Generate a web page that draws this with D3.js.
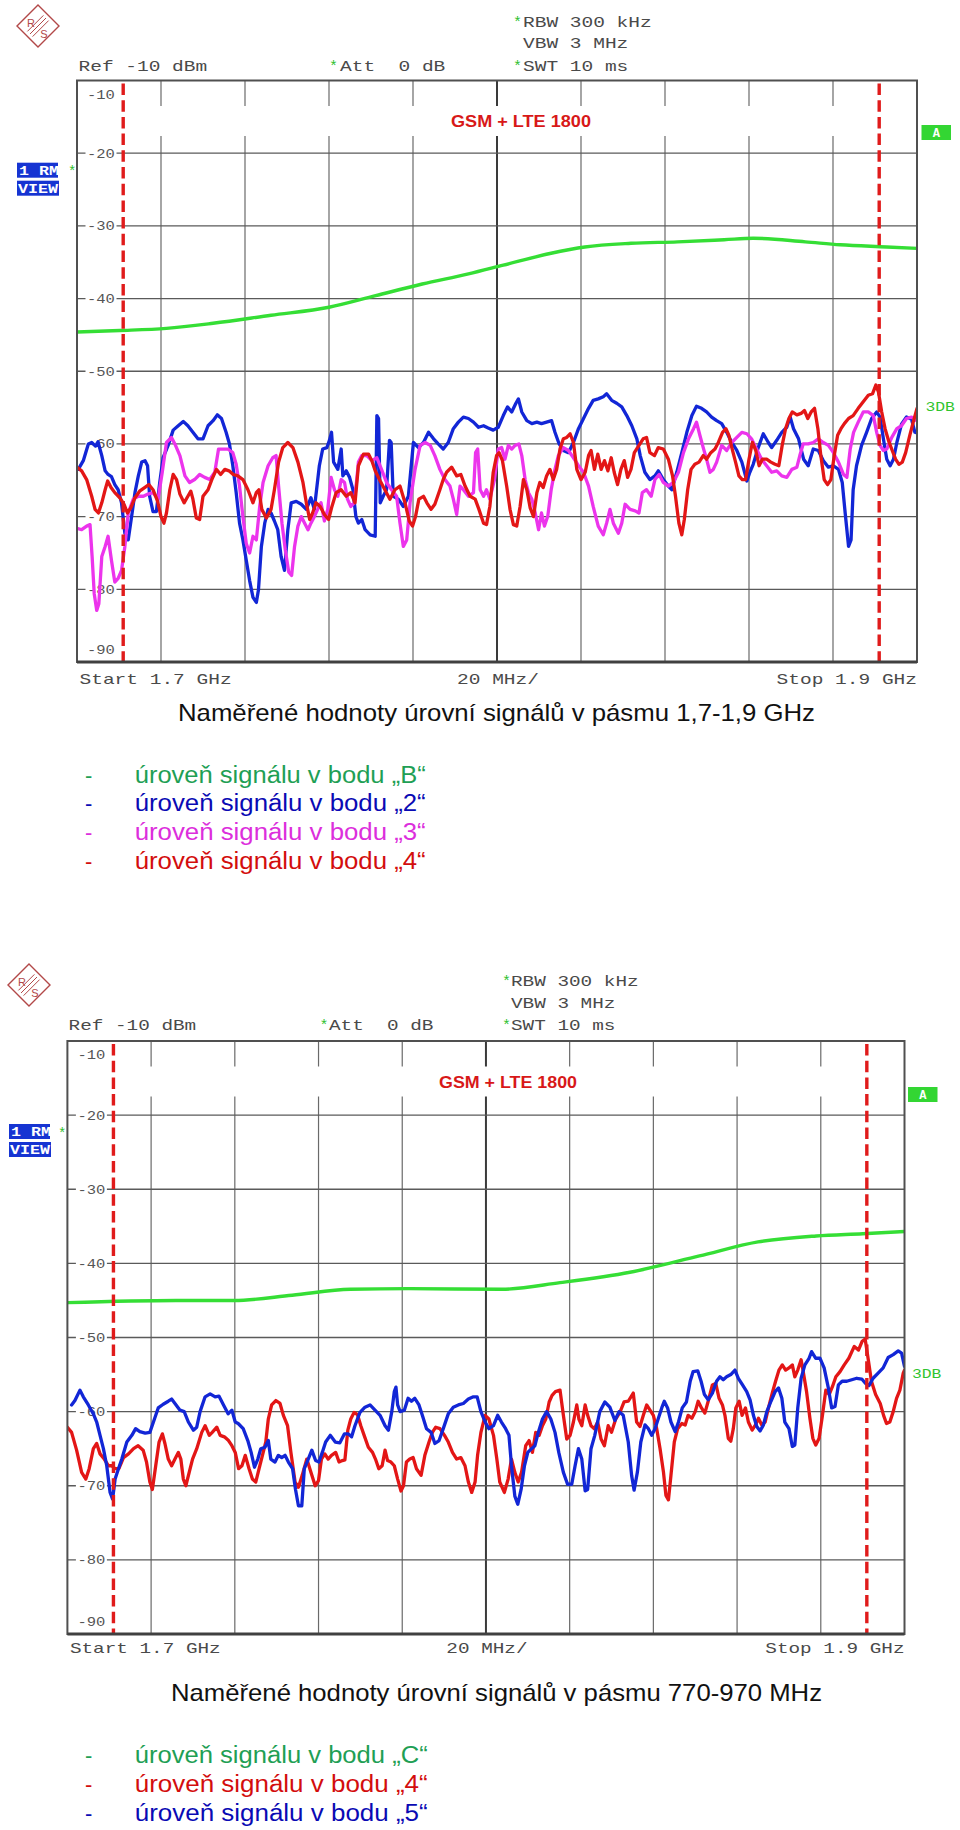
<!DOCTYPE html>
<html><head><meta charset="utf-8">
<script src="https://cdn.jsdelivr.net/npm/d3@7"></script>
<style>body{margin:0;background:#fff}svg{display:block}text{white-space:pre}</style>
</head><body>
<svg id="c" width="960" height="1830"></svg>
<script>
// ---------- DATA ----------
const yTicks = [-10,-20,-30,-40,-50,-60,-70,-80,-90];
const freqGrid = [1700,1720,1740,1760,1780,1800,1820,1840,1860,1880,1900];
const markerFreqs = [1711, 1891];
const headerLines = ["RBW 300 kHz","VBW 3 MHz","SWT 10 ms"];
const refText = "Ref -10 dBm", attText = "Att  0 dB";
const axisTexts = ["Start 1.7 GHz","20 MHz/","Stop 1.9 GHz"];
const bandLabel = "GSM + LTE 1800";
const titles = ["Naměřené hodnoty úrovní signálů v pásmu 1,7-1,9 GHz","Naměřené hodnoty úrovní signálů v pásmu 770-970 MHz"];
const legend1 = ["úroveň signálu v bodu „B“","úroveň signálu v bodu „2“","úroveň signálu v bodu „3“","úroveň signálu v bodu „4“"];
const legend2 = ["úroveň signálu v bodu „C“","úroveň signálu v bodu „4“","úroveň signálu v bodu „5“"];

// chart 1 (1,7-1,9 GHz) traces: [MHz, dBm]
const c1_B = [[1700,-44.6],[1710.2,-44.4],[1721.3,-44.1],[1732.4,-43.4],[1746.2,-42.3],[1760,-41.2],[1771.1,-39.6],[1782.2,-38],[1793.2,-36.6],[1801.5,-35.4],[1812.6,-33.8],[1820.9,-32.9],[1831.9,-32.4],[1843,-32.2],[1854.1,-31.9],[1861,-31.7],[1873.4,-32.2],[1881.7,-32.6],[1892.8,-32.9],[1900,-33.1]];
const c1_2 = [[1700.3,-63.5],[1701.5,-62.3],[1702.7,-60],[1703.5,-59.8],[1704.4,-60.3],[1705,-59.7],[1705.9,-61.6],[1706.7,-63.7],[1707.4,-64.2],[1708.2,-64.5],[1709,-65.6],[1709.8,-66.3],[1710.6,-68.1],[1711.4,-72.3],[1712.2,-73.2],[1713,-70],[1713.8,-66.7],[1714.6,-64.4],[1715.4,-62.5],[1716.2,-62.3],[1716.8,-63],[1717.3,-67.2],[1718.1,-69.3],[1718.9,-69.3],[1719.7,-65.3],[1720.5,-61.9],[1721.7,-60.2],[1722.9,-58.1],[1724.1,-57.5],[1725.3,-56.9],[1726.4,-57.5],[1727.6,-58.4],[1728.8,-59.3],[1730,-59.3],[1731.2,-57.5],[1732.4,-56.8],[1733.4,-56],[1734.4,-56.5],[1735.5,-58.4],[1736.3,-60],[1737.1,-63],[1737.9,-66.7],[1738.7,-70.9],[1739.5,-73.2],[1740.3,-76],[1741.1,-78.8],[1741.9,-81.1],[1742.7,-81.8],[1743.2,-80.1],[1743.9,-74.1],[1744.7,-70.9],[1745.5,-69],[1746.2,-69.5],[1747,-70.6],[1747.8,-71.8],[1748.6,-75.5],[1749.4,-77.4],[1750.2,-71.8],[1751,-68.1],[1752.2,-67.9],[1753.4,-68.3],[1754.6,-69],[1755.7,-67.4],[1756.5,-69],[1757.7,-63],[1758.5,-60.7],[1759.5,-60.5],[1760.1,-59.5],[1760.6,-58.4],[1761.1,-62.5],[1762.1,-63.5],[1762.9,-60.7],[1763.3,-64.4],[1764.1,-63.7],[1764.9,-64.6],[1765.7,-66.3],[1766.4,-70],[1767,-70.9],[1767.8,-70.4],[1768.6,-71.8],[1769.8,-72.5],[1771,-72.7],[1771.4,-56.1],[1771.8,-56.5],[1772.2,-68.1],[1772.9,-67.2],[1773.7,-66.3],[1774.4,-59.5],[1774.8,-59.8],[1775.3,-67.2],[1776.5,-67.6],[1777.7,-68.6],[1778.9,-67.2],[1780.1,-59.8],[1781.3,-60.5],[1782.5,-59.8],[1783.7,-58.4],[1784.9,-59.3],[1786,-60],[1787.2,-60.7],[1788.4,-59.8],[1789.6,-57.9],[1790.8,-57],[1792,-56.3],[1793.2,-56.5],[1794.4,-57],[1795.6,-57.7],[1796.8,-57.5],[1797.9,-57.8],[1799.1,-58.1],[1800.3,-57.7],[1801.5,-56.1],[1802.5,-54.9],[1803.5,-55.6],[1804.5,-54.4],[1805.1,-53.8],[1805.9,-55.6],[1807.1,-56.8],[1808.3,-57.2],[1809.5,-57],[1810.6,-57.2],[1811.8,-57],[1813,-56.8],[1813.8,-58.4],[1814.8,-60],[1815.8,-60.9],[1817,-61.2],[1818.2,-59.8],[1819.4,-57.9],[1820.6,-56.5],[1821.8,-55.1],[1822.9,-54],[1824.1,-53.8],[1825.3,-53.5],[1826.1,-53.1],[1827.3,-54],[1828.5,-54.4],[1829.7,-54.9],[1830.9,-56.1],[1832.1,-57.5],[1833.3,-59.3],[1834.1,-61.6],[1835.2,-63.9],[1836.4,-64.9],[1837.6,-64.4],[1838.4,-63.7],[1839.6,-64.9],[1840.8,-65.8],[1841.6,-66.3],[1842.8,-63.9],[1844,-61.2],[1845.2,-58.4],[1846.4,-56.1],[1847.5,-54.8],[1848.7,-55.1],[1849.9,-55.6],[1851.1,-56.3],[1852.3,-56.8],[1853.5,-57.2],[1854.7,-58.4],[1855.9,-59.8],[1857.1,-60.9],[1858.3,-62.5],[1859.5,-65.1],[1860.2,-63.9],[1861,-62.8],[1862.2,-60.5],[1863.4,-58.6],[1864.6,-59.8],[1865.4,-60.5],[1866.6,-59.5],[1867.8,-58.4],[1869,-57.7],[1869.8,-56.3],[1870.6,-57.9],[1871.8,-59.3],[1873,-62.1],[1874.1,-63],[1875.3,-60.7],[1876.5,-60.9],[1877.7,-62.3],[1878.9,-63.2],[1880.1,-63],[1881.3,-63.5],[1882.2,-65.3],[1882.9,-69.5],[1883.7,-74.1],[1884.3,-73.2],[1884.8,-66.3],[1885.6,-63],[1886.8,-60.2],[1888,-58.4],[1889.2,-56.5],[1890.4,-55.6],[1891.2,-56.3],[1892,-59.3],[1892.8,-62.1],[1893.6,-63],[1894.4,-62.1],[1895.2,-59.8],[1896.3,-57.3],[1897.5,-56.3],[1898.7,-56.6],[1899.5,-58.4],[1900,-58.5]];
const c1_3 = [[1700,-71.6],[1701.1,-71.8],[1702.3,-71.3],[1703.1,-71.1],[1703.6,-75.5],[1704.1,-80.6],[1704.7,-82.9],[1705.2,-82],[1705.9,-75.5],[1706.7,-74.1],[1707.4,-72.7],[1708.2,-76],[1709,-79],[1709.8,-78.5],[1710.6,-77.4],[1711.4,-74.1],[1712.2,-69.5],[1713.4,-67.6],[1714.6,-67.2],[1715.8,-67.2],[1716.9,-66.9],[1718.1,-66.7],[1719.3,-67.6],[1720.3,-63.9],[1721.3,-59.8],[1722.5,-59.1],[1723.3,-60],[1724.5,-61.6],[1725.7,-64.4],[1726.8,-65.3],[1728,-64.9],[1729.2,-64.2],[1730.4,-64.6],[1731.6,-64.9],[1732.8,-63.9],[1733.7,-60.7],[1734.8,-60.7],[1735.9,-60.7],[1737.1,-61.2],[1737.9,-62.8],[1738.7,-65.8],[1739.5,-70],[1740.3,-73.7],[1741.1,-75],[1741.9,-72.7],[1742.7,-73.2],[1743.5,-68.6],[1744.3,-65.3],[1745.5,-63],[1746.6,-61.9],[1747.4,-61.6],[1748,-65.8],[1748.8,-70.9],[1749.6,-74.6],[1750.4,-77.6],[1751.1,-78.1],[1751.8,-74.1],[1752.6,-71.3],[1753.4,-70],[1754.2,-70.9],[1755,-71.8],[1755.7,-70.9],[1756.5,-70],[1757.3,-69],[1758.1,-68.1],[1758.9,-70.6],[1759.7,-69],[1760.5,-64.6],[1761.3,-66.3],[1762.1,-67.2],[1762.9,-64.9],[1763.7,-65.3],[1764.4,-67.6],[1765.2,-68.6],[1766,-68.1],[1766.6,-65],[1767,-62.5],[1767.8,-61.6],[1769,-61.6],[1770.2,-62.3],[1771.4,-61.9],[1772.5,-63.5],[1773.7,-65.3],[1774.9,-66.3],[1776.1,-67.2],[1776.9,-70.9],[1777.7,-74.1],[1778.5,-73.2],[1779.3,-68.1],[1780.5,-63.5],[1781.7,-60.2],[1782.9,-59.8],[1784.1,-60.2],[1785.2,-61.6],[1786.4,-63.5],[1787.6,-64.9],[1788.8,-65.8],[1789.6,-67.6],[1790.4,-69.7],[1791.2,-65.8],[1792,-66.3],[1793.2,-67.2],[1794.4,-66.7],[1794.9,-61.2],[1795.4,-60.7],[1796,-66.3],[1796.8,-67.2],[1797.5,-66.3],[1798.3,-67.6],[1799.4,-64.9],[1800.3,-60.7],[1801.1,-60.5],[1801.9,-62.1],[1802.7,-60.2],[1803.5,-60.7],[1804.3,-60.2],[1805.2,-60],[1805.9,-61.6],[1806.7,-64.9],[1807.5,-66.7],[1808.3,-67.6],[1809.1,-69.5],[1809.9,-71.8],[1810.6,-69.5],[1811.3,-71.3],[1812.1,-69.9],[1812.9,-66.3],[1813.8,-63.5],[1814.6,-61.6],[1815.8,-60.5],[1817,-60.9],[1818.2,-61.9],[1819.4,-63],[1820.6,-63.9],[1821.8,-65.8],[1822.9,-68.6],[1824.1,-71.3],[1825.3,-72.5],[1826.1,-70.9],[1826.9,-69],[1827.7,-70.9],[1828.9,-72.3],[1829.7,-70.9],[1830.5,-68.3],[1831.7,-69],[1832.9,-69.2],[1833.8,-69.5],[1834.6,-66.7],[1835.6,-66.3],[1836.7,-67.2],[1837.6,-64.9],[1838.6,-64.2],[1839.6,-65.3],[1840.8,-65.8],[1842,-65.3],[1843.2,-63.9],[1844.4,-61.2],[1845.6,-59.3],[1846.8,-57.9],[1847.5,-57],[1848.3,-58.8],[1849.1,-60.5],[1849.9,-62.1],[1850.7,-63.9],[1851.5,-63.5],[1852.3,-62.5],[1853.5,-60.2],[1854.7,-60.9],[1855.9,-59.8],[1857.1,-59.1],[1858.3,-58.4],[1859.5,-58.6],[1860.6,-59.3],[1861.8,-60.7],[1863,-62.1],[1864.2,-63],[1865.4,-63.9],[1866.6,-63.7],[1867.8,-64.4],[1869,-64.6],[1870.2,-63.5],[1871.4,-63.2],[1872.1,-61.6],[1872.9,-60],[1874.1,-60],[1875.3,-59.8],[1876.5,-59.3],[1877.7,-59.8],[1878.9,-60.2],[1880.1,-61.2],[1881.3,-62.5],[1882.5,-64.2],[1883.3,-64.6],[1884.1,-60.7],[1884.9,-58.4],[1886,-57],[1887.2,-55.6],[1888.4,-55.6],[1889.6,-56.1],[1890.4,-58.4],[1891.2,-60.2],[1892,-60.9],[1892.8,-60.7],[1894,-59.1],[1895.2,-57.9],[1896.3,-57.5],[1897.5,-56.5],[1898.7,-56.3],[1899.9,-56.8]];
const c1_4 = [[1700,-63.2],[1701.1,-63.7],[1702.3,-64.9],[1703.5,-67.2],[1704.3,-69],[1705.1,-69.5],[1705.9,-68.1],[1706.7,-66.3],[1707.3,-65.1],[1708.1,-66],[1709,-66.7],[1710.2,-67.4],[1711.2,-68.3],[1712,-69.5],[1712.8,-68.8],[1713.8,-67.4],[1714.9,-66.5],[1716.1,-66],[1717.1,-65.6],[1718.1,-66.3],[1719.2,-67.9],[1720,-70],[1720.7,-70.9],[1721.3,-69.5],[1722.1,-66.3],[1722.9,-64.2],[1723.7,-64.9],[1724.5,-66.9],[1725.5,-68.1],[1726.4,-67.2],[1727.1,-66.5],[1727.6,-67.6],[1728.4,-70.2],[1729.2,-70.4],[1730,-67.2],[1731.2,-66.3],[1732.1,-64.9],[1733.2,-63.5],[1734.2,-64.2],[1735.2,-63.5],[1736.2,-63.7],[1737.2,-64.2],[1738.3,-64.4],[1739.5,-64.9],[1740.7,-66.3],[1741.9,-68.1],[1742.7,-66.7],[1743.3,-66.3],[1744,-69],[1745.1,-70.2],[1746.2,-69],[1747,-66.3],[1748,-62.5],[1749,-60.5],[1750.2,-59.8],[1751.4,-60.5],[1752.6,-62.5],[1753.8,-65.3],[1754.6,-68.1],[1755.4,-70.4],[1756.1,-69.5],[1756.9,-68.1],[1757.9,-68.6],[1758.9,-69.7],[1759.9,-70.4],[1760.7,-68.6],[1761.7,-66.7],[1762.9,-66.3],[1764.1,-67.2],[1765.2,-66.7],[1766.2,-68.1],[1767,-63],[1768.2,-61.4],[1769.4,-61.4],[1770.2,-62.3],[1771,-63.7],[1772.2,-65.1],[1773.3,-66.3],[1774.5,-67.6],[1775.7,-66.3],[1776.9,-65.8],[1778.1,-68.1],[1779.1,-70.6],[1779.9,-71.3],[1780.6,-70],[1781.4,-67.6],[1782.5,-67.2],[1783.3,-68.1],[1784.3,-69],[1785.2,-68.3],[1786.4,-66.3],[1787.2,-64.9],[1788,-63.9],[1789.2,-63.2],[1790.4,-64.4],[1791.4,-64.2],[1792.4,-65.8],[1793.6,-67.2],[1794.8,-67.6],[1795.7,-69],[1796.8,-70.9],[1797.5,-71.1],[1798.3,-68.6],[1799.1,-63.9],[1799.9,-61.6],[1800.5,-61.2],[1801.3,-62.3],[1802.3,-65.8],[1803.1,-69],[1803.9,-71.1],[1804.7,-71.3],[1805.5,-68.6],[1806.3,-64.9],[1807.1,-66.3],[1807.9,-68.8],[1808.7,-70],[1809.5,-66.7],[1810.2,-65.3],[1811,-66],[1811.8,-64.4],[1812.6,-63.5],[1813.4,-64.9],[1814.2,-63.5],[1815,-60.7],[1815.8,-59.3],[1816.6,-59.1],[1817.4,-58.6],[1818.2,-59.8],[1819,-63.5],[1820,-64.9],[1821,-63.9],[1821.8,-61.6],[1822.4,-60.9],[1823.2,-63.5],[1824,-61.4],[1824.8,-63.5],[1825.6,-62.3],[1826.4,-63.7],[1827.2,-61.9],[1827.9,-63.9],[1828.7,-65.6],[1829.5,-63.5],[1830.3,-62.3],[1831.1,-64.6],[1831.9,-63.5],[1832.7,-61.2],[1833.8,-60.2],[1834.8,-59.3],[1835.6,-59.1],[1836.4,-61.2],[1837.5,-61.6],[1838.4,-60.5],[1839.6,-60.7],[1840.8,-62.1],[1841.8,-64.4],[1842.5,-67.2],[1843.3,-70.9],[1844,-72.5],[1844.6,-70.4],[1845.4,-66.3],[1846.2,-63.5],[1847.1,-62.8],[1848.1,-62.5],[1849.1,-61.6],[1849.9,-62.1],[1850.9,-61.2],[1851.9,-60.7],[1852.7,-59.8],[1853.7,-58.4],[1854.5,-57.9],[1855.2,-58.8],[1856,-60.7],[1856.8,-62.5],[1857.6,-64.4],[1858.4,-64.9],[1859.2,-64.9],[1860,-62.1],[1860.8,-59.8],[1861.6,-60.9],[1862.4,-63],[1863.2,-62.1],[1864.2,-62.1],[1865.2,-62.5],[1866.2,-62.8],[1867.1,-63],[1867.9,-60.2],[1868.7,-57.9],[1869.5,-56.5],[1870.3,-55.6],[1871.4,-56],[1872.4,-55.8],[1873.2,-55.4],[1874,-56.5],[1874.8,-55.6],[1875.6,-55.1],[1876.4,-57.9],[1877.1,-61.6],[1877.9,-64.9],[1878.7,-65.6],[1879.5,-64.9],[1880.3,-61.6],[1881.1,-58.8],[1881.9,-57.9],[1882.7,-57.2],[1883.7,-56.5],[1884.8,-56.1],[1886,-55.1],[1887.2,-54.2],[1888.4,-53.3],[1889.4,-53.1],[1890.2,-51.9],[1890.8,-52.8],[1891.6,-55.6],[1892.4,-57.9],[1893.2,-59.5],[1894.1,-60.9],[1894.9,-62.1],[1895.7,-62.8],[1896.5,-62.5],[1897.3,-61.2],[1898.3,-58.8],[1899.1,-57],[1900,-55.1]];

// chart 2 (770-970 MHz) traces: [MHz on the displayed axis, dBm]
const c2_C = [[1700,-45.3],[1725.9,-45],[1739.8,-45],[1753.7,-44.3],[1767.6,-43.5],[1781.5,-43.4],[1803.8,-43.5],[1817.7,-42.6],[1834.4,-41.2],[1851,-39],[1865,-37.1],[1878.9,-36.3],[1890,-36],[1900,-35.7]];
const c2_4 = [[1700,-62.1],[1701,-62.8],[1702.2,-65.2],[1703.4,-68.2],[1704.4,-69.1],[1705.2,-67.7],[1706.2,-65],[1707,-64.3],[1707.8,-65.7],[1708.8,-66.4],[1709.8,-67.3],[1710.6,-67.3],[1711.4,-67.7],[1712.3,-67.7],[1713.4,-66.2],[1714.6,-65.7],[1715.8,-65],[1716.9,-64.6],[1718.1,-65.2],[1718.9,-66.8],[1719.7,-69.5],[1720.3,-70.5],[1721.1,-67.3],[1721.9,-64.1],[1722.7,-63],[1723.3,-64.3],[1724.1,-66.4],[1724.9,-67.3],[1725.7,-66.4],[1726.5,-65.5],[1727.1,-66.4],[1727.7,-69.1],[1728.3,-70],[1729.1,-68.2],[1729.9,-66.4],[1730.9,-65],[1732.1,-62.8],[1732.9,-61.9],[1733.9,-63.2],[1734.6,-62.8],[1735.7,-62.1],[1736.5,-63.2],[1737.5,-63.4],[1738.5,-63.9],[1739.3,-64.6],[1740.1,-65.5],[1740.9,-67.7],[1741.7,-67.3],[1742.5,-65.9],[1743.4,-67.7],[1744.2,-69.1],[1745,-69.5],[1745.8,-67.7],[1746.6,-65.9],[1747.4,-64.1],[1748,-61],[1748.8,-59.1],[1749.8,-58.5],[1750.8,-58.9],[1751.6,-60.5],[1752.6,-61.9],[1753.4,-65.5],[1754.4,-69.5],[1755.2,-70.2],[1756.1,-68.6],[1757.2,-66.4],[1758.2,-68.2],[1759.2,-70],[1760,-69.3],[1760.7,-66.4],[1761.5,-65.7],[1762.3,-66.4],[1763.1,-65.9],[1764.1,-65.5],[1764.9,-66.8],[1765.7,-66.6],[1766.3,-66.5],[1767,-62.5],[1767.7,-61],[1768.5,-60.1],[1769.3,-60.4],[1770.1,-61.9],[1770.9,-63.2],[1771.9,-64.8],[1772.9,-65.5],[1773.6,-66.4],[1774.4,-67.7],[1775.2,-67.3],[1775.9,-65.2],[1776.5,-66.6],[1777.3,-66.8],[1778.1,-67.3],[1778.9,-69.1],[1779.7,-70.7],[1780.3,-70],[1781,-66.8],[1781.8,-66.4],[1782.6,-66.2],[1783.4,-67.7],[1784.5,-68.6],[1785.4,-65.9],[1786.4,-64.1],[1787.2,-62.8],[1788,-62.1],[1789,-62.3],[1790.1,-63.2],[1791,-64.1],[1792,-65.5],[1793,-66.4],[1794,-66.2],[1795,-67.3],[1795.8,-69.5],[1796.6,-70.9],[1797.4,-69.5],[1798,-65.9],[1798.8,-62.8],[1799.8,-60.5],[1800.7,-61],[1801.8,-63.2],[1802.6,-66.4],[1803.3,-69.5],[1804.4,-70.9],[1805.3,-69.1],[1806.1,-66.4],[1806.9,-68.2],[1807.7,-69.5],[1808.5,-68.2],[1809.5,-64.6],[1810.3,-63.9],[1811.1,-65.5],[1811.9,-62.8],[1812.7,-63.2],[1813.5,-61.9],[1814.3,-61],[1815.1,-58.7],[1815.8,-57.8],[1816.6,-57.3],[1817.7,-57.1],[1818.5,-60.5],[1819.3,-63.7],[1820.1,-63.2],[1820.9,-61.4],[1821.7,-59.1],[1822.2,-61],[1822.9,-61.9],[1823.7,-59.1],[1824.3,-60.5],[1825.1,-61.9],[1825.9,-62.3],[1826.7,-61.4],[1827.5,-63.7],[1828.3,-64.6],[1829.2,-61.9],[1830,-62.8],[1831,-61],[1832,-60.1],[1833,-58.7],[1834,-58.6],[1835.2,-57.5],[1836,-61.4],[1836.8,-62],[1837.6,-60.5],[1838.4,-59.1],[1839.2,-59.8],[1840,-60.5],[1840.8,-62.3],[1841.6,-65],[1842.4,-68.1],[1843,-71.3],[1843.6,-71.9],[1844.2,-68.6],[1845,-64.1],[1845.8,-62.3],[1846.8,-61.6],[1847.6,-61.8],[1848.3,-60.5],[1849.2,-60.9],[1850,-60],[1850.7,-58.6],[1851.5,-59.5],[1852.3,-60.2],[1853.1,-58.6],[1854.1,-56.4],[1854.9,-56.2],[1855.7,-58.2],[1856.5,-59.1],[1857.1,-60.5],[1857.9,-63.6],[1858.5,-64],[1859.1,-62.3],[1859.7,-59.5],[1860.5,-58.6],[1861.2,-60.5],[1862,-59.5],[1862.7,-61.4],[1863.6,-62.5],[1864.4,-61.8],[1865.1,-60.9],[1865.9,-61.8],[1866.7,-61.4],[1867.5,-59.5],[1868.4,-57.5],[1869.2,-55.9],[1870,-54.4],[1870.8,-53.7],[1871.6,-54.4],[1872.4,-54.1],[1873.2,-53.7],[1873.8,-55.3],[1874.5,-54.4],[1875.3,-53],[1875.8,-54.6],[1876.6,-57.3],[1877.4,-60.9],[1878.1,-63.6],[1878.8,-64.5],[1879.6,-63.6],[1880.4,-60.5],[1881.2,-57.1],[1882,-57.7],[1882.8,-56.6],[1883.6,-55.3],[1884.6,-54.6],[1885.6,-53.7],[1886.7,-52.8],[1888,-51.2],[1889,-51.7],[1889.9,-50.5],[1890.6,-50.2],[1891.4,-53.2],[1892.1,-55.9],[1893.1,-57.7],[1894.2,-58.9],[1895,-60.5],[1895.7,-61.6],[1896.5,-61.4],[1897.3,-60],[1898.1,-58.2],[1898.9,-57.1],[1899.7,-54.8],[1900,-54.4]];
const c2_5 = [[1701,-59.1],[1701.8,-58.5],[1703,-57.1],[1703.8,-58],[1705,-59.1],[1706.2,-60.3],[1707,-61.4],[1707.8,-63.2],[1708.6,-65],[1709.4,-67.3],[1710.2,-70.9],[1710.8,-71.8],[1711.4,-69.1],[1712.2,-67.7],[1713,-66.4],[1714.2,-64.1],[1715.4,-63.2],[1716.3,-62.3],[1717.3,-62.7],[1718.6,-62.9],[1719.7,-62.8],[1720.8,-61],[1721.7,-59.5],[1722.9,-59],[1724.1,-58.6],[1724.9,-58.3],[1725.7,-58.9],[1726.9,-59.8],[1727.9,-60],[1728.9,-61.4],[1730.1,-62.5],[1730.9,-62.1],[1731.7,-60],[1732.9,-58],[1734.1,-57.6],[1735.3,-58],[1736.2,-57.9],[1737.3,-59.1],[1738.4,-60.3],[1739.3,-59.8],[1740.1,-61.4],[1740.8,-61.6],[1742,-62.3],[1743.1,-63.9],[1743.9,-65.5],[1744.7,-67.5],[1745.5,-66.4],[1746.2,-65],[1747.2,-64.8],[1748,-63.9],[1748.6,-66.4],[1749.6,-66.8],[1750.4,-65.9],[1751.2,-66.2],[1752,-65.9],[1752.8,-66.8],[1753.8,-67.7],[1754.5,-70.5],[1755.2,-72.7],[1756,-72.7],[1756.6,-67.7],[1757.4,-66.6],[1758.4,-65.2],[1759.3,-66.6],[1760.1,-66.8],[1760.9,-65.5],[1761.7,-64.1],[1762.8,-63.2],[1764,-64.1],[1765.1,-64.2],[1766.2,-63],[1767.1,-63],[1767.9,-63.4],[1768.7,-61.9],[1769.9,-60.1],[1771.1,-59.4],[1772.3,-59.1],[1773.5,-59.8],[1774.7,-60.5],[1775.9,-61.9],[1776.7,-62.5],[1777.5,-60],[1778.1,-57.3],[1778.5,-56.7],[1778.9,-59.1],[1779.5,-60],[1780.5,-59.8],[1781.4,-58.2],[1782.2,-58.6],[1783,-58.2],[1784,-59.1],[1784.8,-60.5],[1785.8,-62.3],[1786.9,-62.8],[1787.8,-64.3],[1788.8,-63.9],[1789.8,-62.3],[1791,-60.3],[1792.2,-59.4],[1793.4,-59.1],[1794.6,-58.9],[1795.8,-58.3],[1797,-58],[1797.9,-58],[1798.8,-60],[1799.8,-61.4],[1800.7,-62.3],[1801.8,-61.9],[1802.8,-60.5],[1803.7,-61.4],[1804.7,-62.3],[1805.5,-63.2],[1806.1,-67.3],[1806.9,-71.4],[1807.6,-72.5],[1808.4,-70.5],[1809.2,-67.3],[1810,-65.5],[1810.9,-65],[1811.7,-64.6],[1812.5,-62.8],[1813.5,-61],[1814.5,-60],[1815.5,-61],[1816.5,-62.8],[1817.4,-65.5],[1818.5,-68.2],[1819.5,-69.8],[1820.5,-69.8],[1821.3,-67.3],[1822.1,-65],[1822.9,-66.4],[1823.7,-70.7],[1824.3,-70.5],[1825.1,-65],[1826,-63.2],[1827.2,-60],[1828.4,-58.7],[1829.6,-59.4],[1830.8,-61.2],[1831.8,-60],[1832.8,-60.5],[1834,-64.1],[1834.8,-68.6],[1835.4,-70.6],[1836.2,-68.1],[1837,-64.1],[1838,-61.8],[1838.8,-62.3],[1839.6,-63.2],[1840.4,-62.3],[1841.2,-60.9],[1842,-59.5],[1842.6,-58.6],[1843.4,-59.5],[1844.2,-61.4],[1845.2,-62.7],[1846,-61.4],[1846.9,-59.5],[1847.9,-58.7],[1848.8,-55.9],[1849.5,-54.6],[1850.6,-54.5],[1851.4,-55.9],[1852.2,-57.7],[1853.1,-58.4],[1854.1,-57.5],[1855.1,-55.9],[1855.9,-55.3],[1856.7,-55.7],[1857.5,-55.3],[1858.5,-55],[1859.5,-54.4],[1860.3,-55.5],[1861.3,-56.4],[1862.3,-57.3],[1863.1,-58.4],[1863.9,-60.5],[1864.7,-62],[1865.5,-62.6],[1866.3,-61.8],[1867.1,-60],[1868.1,-58.6],[1869.1,-57.3],[1869.9,-56.8],[1870.7,-58.2],[1871.4,-61.4],[1872.4,-62.3],[1873.2,-64.7],[1873.8,-64.5],[1874.5,-59.5],[1875.3,-55.5],[1876.2,-53.7],[1877.2,-52.8],[1877.8,-51.9],[1878.8,-52.8],[1879.8,-52.8],[1880.8,-54.1],[1881.8,-56.8],[1882.6,-59.5],[1883.4,-59.3],[1884.2,-56.4],[1885.1,-55.9],[1886.2,-55.9],[1887.4,-55.7],[1888.6,-55.5],[1889.8,-55.6],[1890.7,-56.2],[1891.5,-56.5],[1892.5,-55.5],[1893.7,-54.8],[1894.9,-54.1],[1896.1,-52.7],[1897.3,-52.3],[1898.5,-51.8],[1899.3,-52.1],[1900,-53.9]];

// ---------- STYLE / LAYOUT ----------
const COL = {green:"#35de35", blue:"#1226d6", magenta:"#ec34ec", red:"#e31616", marker:"#e01b1b",
  lgGreen:"#1f9f55", lgBlue:"#0a0ab4", lgMag:"#dc2edc", lgRed:"#d30d0d"};
const MONO = '"Liberation Mono","Courier New",monospace';
const SANS = '"Liberation Sans",Arial,sans-serif';

const layouts = [
  {left:77, right:917, top:80.5, bottom:662, cw:11.7,
   logo:[38,26], hdrStar:513, hdrX:523, hdrY:[27,48,70.5], refX:78.5, attStar:329, attX:340,
   bandLbl:[521,127, 140], rm:[17,162.7], rmStar:[68,176], aBox:[921.5,125], db:[925.5,411],
   axisY:684, titleY:720.5, titleW:637, legY:[782.5,811,840,869], legW:291},
  {left:67.4, right:904.5, top:1041, bottom:1634, cw:11.6,
   logo:[29,985], hdrStar:502, hdrX:511, hdrY:[985.5,1007.5,1030], refX:68.6, attStar:319.6, attX:329,
   bandLbl:[508,1087.5, 138], rm:[9,1124], rmStar:[58,1138], aBox:[908,1087], db:[912,1377.5],
   axisY:1653, titleY:1700.5, titleW:651, legY:[1762.5,1791.5,1820.5], legW:293}
];

const svg = d3.select("#c");

function mono(g, x, y, str, cw, color, size, anchor) {
  const t = g.append("text").attr("x", x).attr("y", y)
    .attr("font-family", MONO).attr("font-size", size).attr("fill", color)
    .attr("textLength", str.length * cw).attr("lengthAdjust", "spacingAndGlyphs").text(str);
  if (anchor) t.attr("text-anchor", anchor);
  return t;
}

function logo(cx, cy) {
  const h = 21, g = svg.append("g");
  const c = "#b24848";
  g.append("path").attr("d", `M${cx},${cy-h}L${cx+h},${cy}L${cx},${cy+h}L${cx-h},${cy}Z`)
    .attr("fill", "none").attr("stroke", c).attr("stroke-width", 1.4);
  [-2.6, 0, 2.6].forEach(o => g.append("line")
    .attr("x1", cx - 8 + o).attr("y1", cy + 8 + o).attr("x2", cx + 8 + o).attr("y2", cy - 8 + o)
    .attr("stroke", c).attr("stroke-width", 1));
  g.append("text").attr("x", cx - 7).attr("y", cy + 1).attr("font-family", SANS).attr("font-size", 11)
    .attr("fill", c).attr("text-anchor", "middle").text("R");
  g.append("text").attr("x", cx + 6).attr("y", cy + 12).attr("font-family", SANS).attr("font-size", 11)
    .attr("fill", c).attr("text-anchor", "middle").text("S");
}

function drawChart(L, greenTrace, traces, legendTexts, legendCols, titleText, idx) {
  const x = d3.scaleLinear().domain([freqGrid[0], freqGrid[freqGrid.length-1]]).range([L.left, L.right]);
  const y = d3.scaleLinear().domain([yTicks[0], yTicks[yTicks.length-1]]).range([L.top, L.bottom]);
  const g = svg.append("g");

  logo(L.logo[0], L.logo[1]);
  // header
  const star = (sx, sy) => g.append("text").attr("x", sx).attr("y", sy).attr("font-family", MONO)
     .attr("font-size", 15).attr("fill", "#2fbf2f").text("*");
  mono(g, L.hdrX, L.hdrY[0], headerLines[0], L.cw, "#4a4a4a", 15); star(L.hdrStar, L.hdrY[0]);
  mono(g, L.hdrX, L.hdrY[1], headerLines[1], L.cw, "#4a4a4a", 15);
  mono(g, L.hdrX, L.hdrY[2], headerLines[2], L.cw, "#4a4a4a", 15); star(L.hdrStar, L.hdrY[2]);
  mono(g, L.refX, L.hdrY[2], refText, L.cw, "#4a4a4a", 15);
  mono(g, L.attX, L.hdrY[2], attText, L.cw, "#4a4a4a", 15); star(L.attStar, L.hdrY[2]);

  // grid
  g.append("g").selectAll("line").data(freqGrid.slice(1, -1)).join("line")
    .attr("x1", d => x(d)).attr("x2", d => x(d)).attr("y1", L.top).attr("y2", L.bottom)
    .attr("stroke", d => d === 1800 ? "#3a3a3a" : "#6a6a6a").attr("stroke-width", d => d === 1800 ? 2 : 1.2);
  g.append("g").selectAll("line").data(yTicks.slice(1, -1)).join("line")
    .attr("x1", L.left).attr("x2", L.right).attr("y1", d => y(d)).attr("y2", d => y(d))
    .attr("stroke", "#5a5a5a").attr("stroke-width", 1.3);
  // blank band under the top edge
  g.append("rect").attr("x", L.left + 2).attr("y", L.top + 25.5).attr("width", L.right - L.left - 4)
    .attr("height", 30).attr("fill", "#fff");

  // y tick labels
  const lblY = v => v === yTicks[0] ? L.top + 13.5 : (v === yTicks[yTicks.length-1] ? L.bottom - 12.5 : y(v));
  const lg = g.append("g");
  yTicks.forEach(v => {
    const cy = lblY(v);
    lg.append("rect").attr("x", L.left + 8.5).attr("y", cy - 7).attr("width", 31).attr("height", 14).attr("fill", "#fff");
    mono(lg, L.left + 10, cy + 4.5, String(v), 9.3, "#555", 13);
  });

  // band label
  g.append("text").attr("x", L.bandLbl[0]).attr("y", L.bandLbl[1]).attr("text-anchor", "middle")
    .attr("font-family", SANS).attr("font-weight", "bold").attr("font-size", 16.5).attr("fill", "#d81818")
    .attr("textLength", L.bandLbl[2]).attr("lengthAdjust", "spacingAndGlyphs").text(bandLabel);

  // traces
  const clipId = "clip" + idx;
  svg.append("clipPath").attr("id", clipId).append("rect")
    .attr("x", L.left).attr("y", L.top).attr("width", L.right - L.left).attr("height", L.bottom - L.top);
  const tg = g.append("g").attr("clip-path", `url(#${clipId})`);
  const lineGen = d3.line().x(d => x(d[0])).y(d => y(d[1]));
  tg.append("path").datum(greenTrace).attr("d", lineGen.curve(d3.curveMonotoneX))
    .attr("fill", "none").attr("stroke", COL.green).attr("stroke-width", 3.4);
  const lin = d3.line().x(d => x(d[0])).y(d => y(d[1]));
  traces.forEach(t => tg.append("path").datum(t.data).attr("d", lin)
    .attr("fill", "none").attr("stroke", t.color).attr("stroke-width", 3.3)
    .attr("stroke-linejoin", "round").attr("stroke-linecap", "round"));

  // band markers
  g.append("g").selectAll("line").data(markerFreqs).join("line")
    .attr("x1", d => x(d)).attr("x2", d => x(d)).attr("y1", L.top + 3).attr("y2", L.bottom)
    .attr("stroke", COL.marker).attr("stroke-width", 3.4).attr("stroke-dasharray", "11.5,5.2");

  // frame
  g.append("rect").attr("x", L.left).attr("y", L.top).attr("width", L.right - L.left).attr("height", L.bottom - L.top)
    .attr("fill", "none").attr("stroke", "#505050").attr("stroke-width", 2);
  g.append("line").attr("x1", L.left).attr("x2", L.right).attr("y1", L.bottom).attr("y2", L.bottom)
    .attr("stroke", "#404040").attr("stroke-width", 3);

  // side annotations
  g.append("rect").attr("x", L.rm[0]).attr("y", L.rm[1]).attr("width", 41).attr("height", 15).attr("fill", "#1634d2");
  g.append("rect").attr("x", L.rm[0]).attr("y", L.rm[1] + 18).attr("width", 42).attr("height", 15).attr("fill", "#1634d2");
  mono(g, L.rm[0] + 2, L.rm[1] + 12, "1 RM", 10, "#fff", 13).attr("font-weight", "bold");
  mono(g, L.rm[0] + 1, L.rm[1] + 30, "VIEW", 10, "#fff", 13).attr("font-weight", "bold");
  g.append("text").attr("x", L.rmStar[0]).attr("y", L.rmStar[1]).attr("font-family", MONO)
    .attr("font-size", 14).attr("fill", "#2fbf2f").text("*");
  g.append("rect").attr("x", L.aBox[0]).attr("y", L.aBox[1]).attr("width", 29.5).attr("height", 15).attr("fill", "#33d633");
  g.append("text").attr("x", L.aBox[0] + 14.75).attr("y", L.aBox[1] + 12).attr("text-anchor", "middle")
    .attr("font-family", MONO).attr("font-weight", "bold").attr("font-size", 12).attr("fill", "#fff").text("A");
  mono(g, L.db[0], L.db[1], "3DB", 9.8, "#2fc42f", 12);

  // axis texts
  mono(g, L.left + 2.5, L.axisY, axisTexts[0], L.cw, "#4a4a4a", 15);
  mono(g, (L.left + L.right) / 2 + 1, L.axisY, axisTexts[1], L.cw, "#4a4a4a", 15, "middle");
  mono(g, L.right, L.axisY, axisTexts[2], L.cw, "#4a4a4a", 15, "end");

  // title
  g.append("text").attr("x", 496.5).attr("y", L.titleY).attr("text-anchor", "middle")
    .attr("font-family", SANS).attr("font-size", 24).attr("fill", "#111")
    .attr("textLength", L.titleW).attr("lengthAdjust", "spacingAndGlyphs").text(titleText);

  // legend
  legendTexts.forEach((t, i) => {
    g.append("text").attr("x", 85).attr("y", L.legY[i]).attr("font-family", SANS).attr("font-size", 22)
      .attr("fill", legendCols[i]).text("-");
    g.append("text").attr("x", 134.7).attr("y", L.legY[i]).attr("font-family", SANS).attr("font-size", 23)
      .attr("fill", legendCols[i]).attr("textLength", L.legW).attr("lengthAdjust", "spacingAndGlyphs").text(t);
  });
}

drawChart(layouts[0], c1_B,
  [{data: c1_2, color: COL.blue}, {data: c1_3, color: COL.magenta}, {data: c1_4, color: COL.red}],
  legend1, [COL.lgGreen, COL.lgBlue, COL.lgMag, COL.lgRed], titles[0], 1);
drawChart(layouts[1], c2_C,
  [{data: c2_4, color: COL.red}, {data: c2_5, color: COL.blue}],
  legend2, [COL.lgGreen, COL.lgRed, COL.lgBlue], titles[1], 2);
</script>
</body></html>
